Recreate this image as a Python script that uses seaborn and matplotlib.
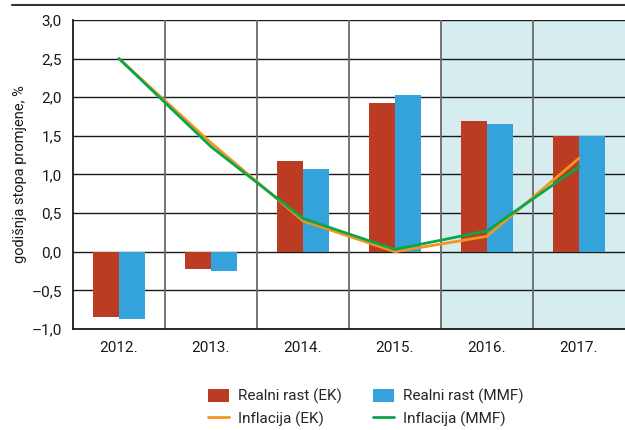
import matplotlib
matplotlib.use("Agg")
import matplotlib.pyplot as plt
from matplotlib.lines import Line2D
from matplotlib.patches import Patch
import seaborn as sns
import pandas as pd
import numpy as np

years = ["2012.", "2013.", "2014.", "2015.", "2016.", "2017."]
rast_ek = [-0.85, -0.22, 1.18, 1.92, 1.69, 1.50]
rast_mmf = [-0.87, -0.25, 1.07, 2.03, 1.66, 1.50]
infl_ek = [2.50, 1.41, 0.40, 0.00, 0.20, 1.21]
infl_mmf = [2.50, 1.36, 0.43, 0.03, 0.27, 1.10]
yticks = [-1.0, -0.5, 0.0, 0.5, 1.0, 1.5, 2.0, 2.5, 3.0]
yticklabels = ["–1,0", "–0,5", "0,0", "0,5", "1,0", "1,5", "2,0", "2,5", "3,0"]
forecast_years = ["2016.", "2017."]

c_red = "#bc3b23"
c_blue = "#34a3db"
c_orange = "#f7941d"
c_green = "#0aa74a"

sns.set_theme(style="white")
plt.rcParams["font.family"] = ["Roboto", "DejaVu Sans"]

bars = pd.DataFrame({
    "year": years * 2,
    "value": rast_ek + rast_mmf,
    "series": ["Realni rast (EK)"] * len(years) + ["Realni rast (MMF)"] * len(years),
})
lines = pd.DataFrame({
    "pos": list(range(len(years))) * 2,
    "value": infl_ek + infl_mmf,
    "series": ["Inflacija (EK)"] * len(years) + ["Inflacija (MMF)"] * len(years),
})

fig = plt.figure(figsize=(6.25, 4.3), dpi=100)
ax = fig.add_axes([0.1168, 0.2349, 0.8832, 0.7186])

# shaded forecast region
i0 = years.index(forecast_years[0])
i1 = years.index(forecast_years[-1])
ax.axvspan(i0 - 0.5, i1 + 0.5, color="#d5edef", zorder=0, lw=0)

sns.barplot(data=bars, x="year", y="value", hue="series", order=years,
            palette=[c_red, c_blue], width=0.57, saturation=1, ax=ax,
            legend=False, zorder=3, linewidth=0, edgecolor="none")
sns.lineplot(data=lines, x="pos", y="value", hue="series",
             palette=[c_orange, c_green], linewidth=2.0, ax=ax,
             legend=False, zorder=4)

ax.set_xlim(-0.5, len(years) - 0.5)
ax.set_ylim(-1.0, 3.0)
ax.set_yticks(yticks)
ax.set_yticklabels(yticklabels)
ax.set_xticks(range(len(years)))
ax.set_xticklabels(years)
ax.tick_params(axis="both", length=0, labelsize=11, colors="#1a1a1a")
ax.tick_params(axis="x", pad=9)
ax.tick_params(axis="y", pad=8)
ax.set_xlabel("")
ax.set_ylabel("godišnja stopa promjene, %", fontsize=10.5, color="#1a1a1a", labelpad=3)

# grid
for y in yticks:
    ax.axhline(y, color="#1a1a1a", lw=1.0, zorder=1)
for k in range(1, len(years)):
    ax.axvline(k - 0.5, color="#6a6a6a", lw=1.3, zorder=1)

for s in ["top", "right"]:
    ax.spines[s].set_visible(False)
for s in ["left", "bottom"]:
    ax.spines[s].set_color("#1a1a1a")
    ax.spines[s].set_linewidth(1.3)

# decorative top rule
fig.add_artist(Line2D([0.019, 1.0], [0.988, 0.988], color="#333333", lw=1.5))

handles = [
    Patch(facecolor=c_red, edgecolor="none", label="Realni rast (EK)"),
    Line2D([], [], color=c_orange, lw=2.0, label="Inflacija (EK)"),
    Patch(facecolor=c_blue, edgecolor="none", label="Realni rast (MMF)"),
    Line2D([], [], color=c_green, lw=2.0, label="Inflacija (MMF)"),
]
fig.legend(handles=handles, ncol=2, loc="center", bbox_to_anchor=(0.585, 0.052),
           frameon=False, fontsize=11, handlelength=1.4, handleheight=1.0,
           columnspacing=2.0, handletextpad=0.6, labelspacing=0.45)

fig.savefig("out.png", dpi=100)
